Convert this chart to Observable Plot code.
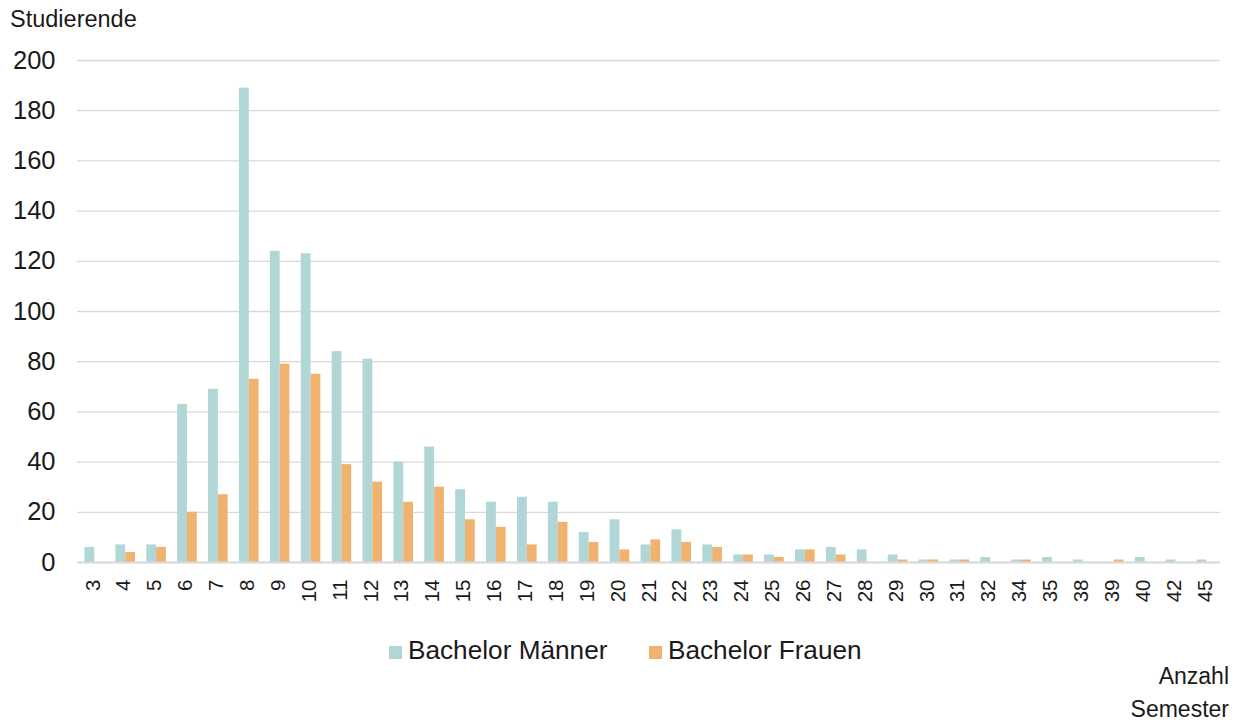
<!DOCTYPE html>
<html>
<head>
<meta charset="utf-8">
<script src="https://cdn.jsdelivr.net/npm/d3@7"></script>
<script src="https://cdn.jsdelivr.net/npm/@observablehq/plot@0.6"></script>
<style>
  body { margin: 0; background: #fff; font-family: "Liberation Sans", Arial, sans-serif; color: #1a1a1a; }
  #wrap { position: relative; width: 1240px; height: 724px; overflow: hidden; }
  #chart { position: absolute; left: 0; top: 0; }
  .txt { position: absolute; white-space: nowrap; color: #1a1a1a; }
  .sw { position: absolute; width: 13px; height: 13px; }
</style>
</head>
<body>
<div id="wrap">
  <div id="chart"></div>
  <div class="txt" style="left:10px; top:6px; font-size:23.5px;">Studierende</div>
  <div id="legend"></div>
  <div class="txt" style="right:11px; top:660px; font-size:23px; text-align:right; line-height:33px;">Anzahl<br>Semester</div>
</div>
<script>
const semester = ["3","4","5","6","7","8","9","10","11","12","13","14","15","16","17","18","19","20","21","22","23","24","25","26","27","28","29","30","31","32","34","35","38","39","40","42","45"];
const maenner = [6,7,7,63,69,189,124,123,84,81,40,46,29,24,26,24,12,17,7,13,7,3,3,5,6,5,3,1,1,2,1,2,1,0,2,1,1];
const frauen  = [0,4,6,20,27,73,79,75,39,32,24,30,17,14,7,16,8,5,9,8,6,3,2,5,3,0,1,1,1,0,1,0,0,1,0,0,0];
const yTicks = [0,20,40,60,80,100,120,140,160,180,200];
const seriesNames = ["Bachelor Männer", "Bachelor Frauen"];
const seriesColors = ["#b0d6d5", "#f0b26f"];

const men = semester.map((s, i) => ({sem: s, v: maenner[i]}));
const women = semester.map((s, i) => ({sem: s, v: frauen[i]}));

const chart = Plot.plot({
  width: 1240,
  height: 620,
  marginTop: 60,
  marginBottom: 58,
  marginLeft: 77,
  marginRight: 20,
  style: {fontFamily: "'Liberation Sans', Arial, sans-serif", color: "#1a1a1a", background: "transparent"},
  x: {type: "band", domain: semester, padding: 0},
  y: {domain: [0, 200]},
  marks: [
    Plot.ruleY(yTicks, {stroke: "#d9d9d9", strokeWidth: 1.3}),
    Plot.barY(men, {x: "sem", y: "v", fill: seriesColors[0], insetLeft: 7.5, insetRight: 13.6}),
    Plot.barY(women, {x: "sem", y: "v", fill: seriesColors[1], insetLeft: 17.3, insetRight: 3.8}),
    Plot.ruleY([0], {stroke: "#d9d9d9", strokeWidth: 2}),
    Plot.axisX({tickRotate: -90, tickSize: 0, tickPadding: 17, fontSize: 20.5, label: null}),
    Plot.axisY({ticks: yTicks, tickSize: 0, tickPadding: 22, fontSize: 25.5, label: null})
  ]
});
document.getElementById("chart").appendChild(chart);

const legend = document.getElementById("legend");
const legendPos = [{sw: 389, tx: 408}, {sw: 649, tx: 668}];
seriesNames.forEach((name, i) => {
  const sw = document.createElement("div");
  sw.className = "sw";
  sw.style.left = legendPos[i].sw + "px";
  sw.style.top = "646px";
  sw.style.background = seriesColors[i];
  legend.appendChild(sw);
  const t = document.createElement("div");
  t.className = "txt";
  t.style.left = legendPos[i].tx + "px";
  t.style.top = "635px";
  t.style.fontSize = "26.2px";
  t.textContent = name;
  legend.appendChild(t);
});
</script>
</body>
</html>
